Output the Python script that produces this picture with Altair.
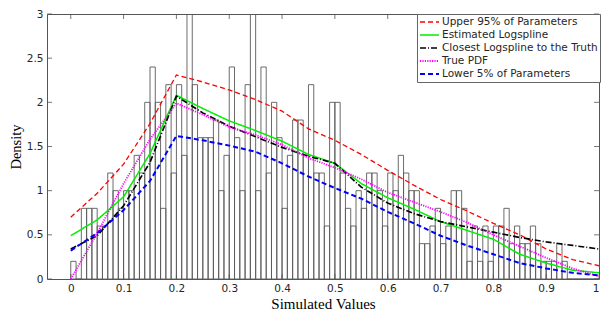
import altair as alt
import pandas as pd

# ---- histogram (bin left edges, density per 0.01 bin) ----
bin_left = [round(i * 0.01, 2) for i in range(100)]
hist_density = [
    0.2, 0.0, 0.8, 0.8, 0.8, 0.6, 0.6, 1.2, 1.0, 0.8,
    1.0, 1.0, 1.4, 1.2, 2.0, 2.4, 2.0, 0.8, 2.2, 1.2,
    2.2, 1.4, 3.2, 2.2, 1.6, 1.6, 1.6, 1.8, 1.0, 1.4,
    2.4, 1.6, 1.0, 2.2, 3.4, 1.0, 2.4, 1.2, 2.0, 1.6,
    0.8, 1.4, 1.8, 1.8, 1.4, 2.2, 1.2, 1.2, 0.6, 2.0,
    2.0, 1.2, 0.8, 0.6, 1.0, 0.8, 1.2, 1.2, 1.0, 0.6,
    1.2, 1.0, 1.4, 1.2, 1.0, 1.0, 0.4, 0.4, 0.6, 0.8,
    0.4, 0.6, 1.0, 1.0, 0.8, 0.2, 0.6, 0.2, 0.6, 0.2,
    0.6, 0.6, 0.8, 0.4, 0.6, 0.4, 0.4, 0.6, 0.4, 0.2,
    0.2, 0.2, 0.4, 0.2, 0.0, 0.0, 0.0, 0.0, 0.0, 0.0,
]

# ---- density curves ----
x_grid = [0.0, 0.05, 0.1, 0.15, 0.2, 0.25, 0.3, 0.35, 0.4, 0.45, 0.5,
          0.55, 0.6, 0.65, 0.7, 0.75, 0.8, 0.85, 0.9, 0.95, 1.0]
upper95 = [0.70, 0.97, 1.30, 1.76, 2.31, 2.23, 2.14, 2.03, 1.90, 1.70, 1.57,
           1.41, 1.23, 1.06, 0.90, 0.77, 0.63, 0.50, 0.34, 0.22, 0.15]
estimated = [0.49, 0.67, 0.93, 1.42, 2.08, 1.93, 1.79, 1.68, 1.56, 1.41, 1.31,
             1.08, 0.92, 0.79, 0.65, 0.55, 0.45, 0.28, 0.18, 0.10, 0.07]
closest = [0.34, 0.49, 0.83, 1.32, 2.07, 1.88, 1.73, 1.61, 1.49, 1.39, 1.31,
           1.04, 0.86, 0.74, 0.65, 0.59, 0.53, 0.47, 0.42, 0.38, 0.34]
true_pdf = [0.00, 0.52, 1.08, 1.58, 1.99, 1.86, 1.72, 1.63, 1.52, 1.37, 1.26,
            1.13, 0.98, 0.87, 0.76, 0.64, 0.50, 0.37, 0.24, 0.12, 0.03]
lower5 = [0.32, 0.52, 0.78, 1.11, 1.62, 1.57, 1.51, 1.44, 1.31, 1.16, 1.03,
          0.91, 0.76, 0.63, 0.49, 0.38, 0.28, 0.18, 0.12, 0.07, 0.04]

series_names = ["Upper 95% of Parameters", "Estimated Logspline",
                "Closest Logspline to the Truth", "True PDF",
                "Lower 5% of Parameters"]
series_values = [upper95, estimated, closest, true_pdf, lower5]
series_colors = ["#ff0000", "#00ee00", "#000000", "#ff00ff", "#0000ff"]
series_dashes = [[5, 3], [1, 0], [6, 2, 1, 2], [1.2, 1.2], [5, 3]]
series_widths = [1.3, 2.0, 1.3, 1.6, 1.3]

x_ticks = [0, 0.1, 0.2, 0.3, 0.4, 0.5, 0.6, 0.7, 0.8, 0.9, 1]
y_ticks = [0, 0.5, 1, 1.5, 2, 2.5, 3]

hist_df = pd.DataFrame({
    "x0": bin_left,
    "x1": [b + 0.01 for b in bin_left],
    "density": hist_density,
})
rows = []
for name, vals in zip(series_names, series_values):
    for xv, yv in zip(x_grid, vals):
        rows.append({"x": xv, "y": yv, "series": name})
lines_df = pd.DataFrame(rows)

W, H = 552, 265
xscale = alt.Scale(domain=[-0.045, 1.0], nice=False, zero=False)
yscale = alt.Scale(domain=[0, 3], nice=False)

x_axis = alt.Axis(title="Simulated Values", values=x_ticks, format="~g",
                  ticks=False, grid=False, domain=False, labelPadding=4,
                  titlePadding=3)
y_axis = alt.Axis(title="Density", values=y_ticks, format="~g",
                  ticks=False, grid=False, domain=False, labelPadding=4,
                  titlePadding=3, titleFontSize=14.5)

bars = alt.Chart(hist_df).mark_rect(
    fill="white", fillOpacity=0, stroke="#5a5a5a", strokeWidth=0.9, clip=True
).encode(
    x=alt.X("x0:Q", scale=xscale, axis=x_axis),
    x2="x1:Q",
    y=alt.Y("density:Q", scale=yscale, axis=y_axis),
    y2=alt.datum(0),
)

leg = alt.Legend(
    title=None, orient="none", legendX=370, legendY=0,
    fillColor="white", strokeColor="#666666", padding=2,
    labelFont="DejaVu Sans", labelFontSize=10.5, labelColor="#262626",
    symbolType="M-1,0H2.8", symbolSize=100, rowPadding=1, labelOffset=11,
)

lines = alt.Chart(lines_df).mark_line(clip=True).encode(
    x=alt.X("x:Q", scale=xscale),
    y=alt.Y("y:Q", scale=yscale),
    color=alt.Color("series:N", sort=series_names,
                    scale=alt.Scale(domain=series_names, range=series_colors),
                    legend=leg),
    strokeDash=alt.StrokeDash("series:N", sort=series_names,
                              scale=alt.Scale(domain=series_names, range=series_dashes),
                              legend=leg),
    strokeWidth=alt.StrokeWidth("series:N", sort=series_names,
                                scale=alt.Scale(domain=series_names, range=series_widths),
                                legend=leg),
)

# inward MATLAB-style ticks on all four sides
xt_df = pd.DataFrame({"t": x_ticks})
yt_df = pd.DataFrame({"t": y_ticks})
tick_color = "#555555"
xt_bottom = alt.Chart(xt_df).mark_rule(color=tick_color, strokeWidth=0.8).encode(
    x=alt.X("t:Q", scale=xscale), y=alt.value(H), y2=alt.value(H - 5))
xt_top = alt.Chart(xt_df).mark_rule(color=tick_color, strokeWidth=0.8).encode(
    x=alt.X("t:Q", scale=xscale), y=alt.value(0), y2=alt.value(5))
yt_left = alt.Chart(yt_df).mark_rule(color=tick_color, strokeWidth=0.8).encode(
    y=alt.Y("t:Q", scale=yscale), x=alt.value(0), x2=alt.value(5))
yt_right = alt.Chart(yt_df).mark_rule(color=tick_color, strokeWidth=0.8).encode(
    y=alt.Y("t:Q", scale=yscale), x=alt.value(W), x2=alt.value(W - 5))

chart = alt.layer(bars, xt_bottom, xt_top, yt_left, yt_right, lines).properties(
    width=W, height=H,
    autosize=alt.AutoSizeParams(type="none"),
    padding={"left": 39, "top": 6, "right": 3, "bottom": 32},
).configure_view(
    stroke="#555555", strokeWidth=1
).configure_axis(
    labelFont="DejaVu Sans", labelFontSize=10.5, labelColor="#262626",
    titleFont="Liberation Serif", titleFontSize=15, titleFontWeight="normal",
    titleColor="#000000",
)

chart.save("out.html", embed_options={"renderer": "svg", "actions": False})
